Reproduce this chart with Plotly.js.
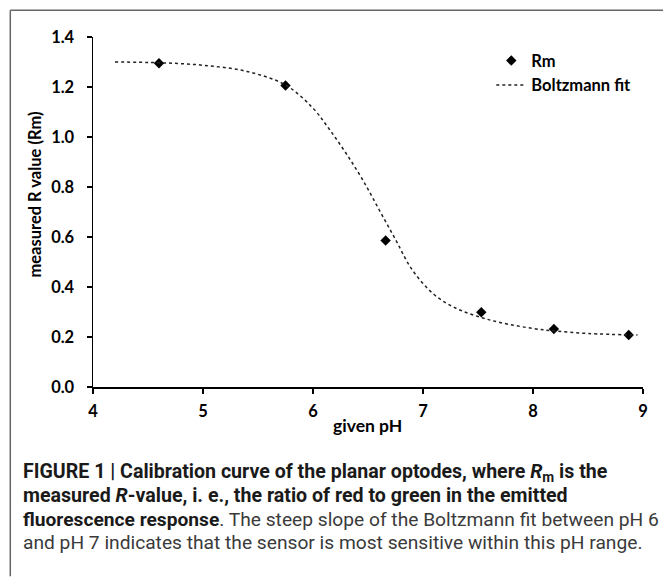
<!DOCTYPE html>
<html>
<head>
<meta charset="utf-8">
<script src="https://cdn.plot.ly/plotly-3.0.1.min.js"></script>
<style>
html,body{margin:0;padding:0;background:#fff;}
#chart{width:663px;height:578px;}
</style>
</head>
<body>
<div id="chart"></div>
<script>
// Measured points
const phMeasured = [4.60, 5.75, 6.66, 7.53, 8.19, 8.87];
const rmMeasured = [1.295, 1.206, 0.586, 0.299, 0.232, 0.208];

// Boltzmann fit curve
const phFit = [4.20, 4.60, 5.00, 5.40, 5.75, 6.00, 6.15, 6.30, 6.45, 6.60, 6.75, 6.90, 7.10, 7.30, 7.50, 7.70, 8.00, 8.20, 8.50, 8.95];
const rmFit = [1.300, 1.297, 1.287, 1.262, 1.208, 1.115, 1.030, 0.935, 0.830, 0.710, 0.590, 0.470, 0.370, 0.315, 0.282, 0.258, 0.234, 0.224, 0.214, 0.208];

const xTicks = [4, 5, 6, 7, 8, 9];
const yTicks = [0, 0.2, 0.4, 0.6, 0.8, 1.0, 1.2, 1.4];
const yTickText = ['0.0', '0.2', '0.4', '0.6', '0.8', '1.0', '1.2', '1.4'];

const xTitle = 'given pH';
const yTitle = 'measured R value (Rm)';

const captionLines = [
  '<b>FIGURE 1 | Calibration curve of the planar optodes, where <i>R</i><sub>m</sub> is the</b>',
  '<b>measured <i>R</i>-value, i. e., the ratio of red to green in the emitted</b>',
  '<b>fluorescence response</b><span style="color:#3a3a3a">. The steep slope of the Boltzmann fit between pH 6</span>',
  '<span style="color:#3a3a3a">and pH 7 indicates that the sensor is most sensitive within this pH range.</span>'
];

const W = 663, H = 578;
const L = 92.7, R = 642.7, T = 36.7, B = 386.7;
const pw = R - L, ph = B - T;
const px = v => (v - L) / pw;
const py = v => (B - v) / ph;

const labFont = {family: 'Lato, sans-serif', size: 16.5, color: '#000', weight: 'bold'};

const traces = [
  {
    x: phMeasured, y: rmMeasured, name: 'Rm', mode: 'markers', type: 'scatter',
    marker: {symbol: 'diamond', size: 8, color: '#000'}
  },
  {
    x: phFit, y: rmFit, name: 'Boltzmann fit', mode: 'lines', type: 'scatter',
    line: {shape: 'spline', dash: 'dot', width: 1.5, color: '#222'}
  }
];

const captionY = [472, 495, 519, 542];
const captionSize = [19.6, 19.6, 19.2, 19.2];
const annotations = captionLines.map((t, i) => ({
  text: t, xref: 'paper', yref: 'paper', x: px(21), y: py(captionY[i]),
  xanchor: 'left', yanchor: 'middle', showarrow: false, align: 'left',
  font: {family: 'Roboto, sans-serif', size: captionSize[i], color: '#1a1a1a'}
}));
annotations.push({
  text: '<b>' + xTitle + '</b>', xref: 'paper', yref: 'paper', x: px(367), y: py(425),
  xanchor: 'center', yanchor: 'middle', showarrow: false,
  font: {family: 'Lato, sans-serif', size: 17.5, color: '#000'}
});
annotations.push({
  text: '<b>' + yTitle + '</b>', xref: 'paper', yref: 'paper', x: px(35), y: py(194),
  xanchor: 'center', yanchor: 'middle', showarrow: false, textangle: -90,
  font: {family: 'Lato, sans-serif', size: 16.5, color: '#000'}
});

const layout = {
  width: W, height: H,
  margin: {l: L, r: W - R, t: T, b: H - B, pad: 0},
  paper_bgcolor: '#fff', plot_bgcolor: '#fff',
  showlegend: true,
  legend: {
    x: px(491), y: py(43), xanchor: 'left', yanchor: 'top',
    font: labFont,
    itemwidth: 30, tracegroupgap: 0, bgcolor: 'rgba(0,0,0,0)'
  },
  xaxis: {
    range: [4, 9], tickvals: xTicks, ticktext: xTicks.map(String),
    showgrid: false, zeroline: false, showline: true, linecolor: '#000', linewidth: 1.5,
    ticks: 'outside', ticklen: 5, tickwidth: 1.5, tickcolor: '#000',
    tickfont: labFont, ticklabelstandoff: 4
  },
  yaxis: {
    range: [0, 1.4], tickvals: yTicks, ticktext: yTickText,
    showgrid: false, zeroline: false, showline: true, linecolor: '#000', linewidth: 1.5,
    ticks: 'outside', ticklen: 5, tickwidth: 1.5, tickcolor: '#000',
    tickfont: labFont, ticklabelstandoff: 9
  },
  shapes: [
    {type: 'line', xref: 'paper', yref: 'paper', x0: px(10), x1: px(663), y0: py(10), y1: py(10), line: {color: '#666', width: 1.5}},
    {type: 'line', xref: 'paper', yref: 'paper', x0: px(10), x1: px(10), y0: py(10), y1: py(576), line: {color: '#666', width: 1.5}}
  ],
  annotations: annotations
};

Plotly.newPlot('chart', traces, layout, {displayModeBar: false, staticPlot: true});
</script>
</body>
</html>
